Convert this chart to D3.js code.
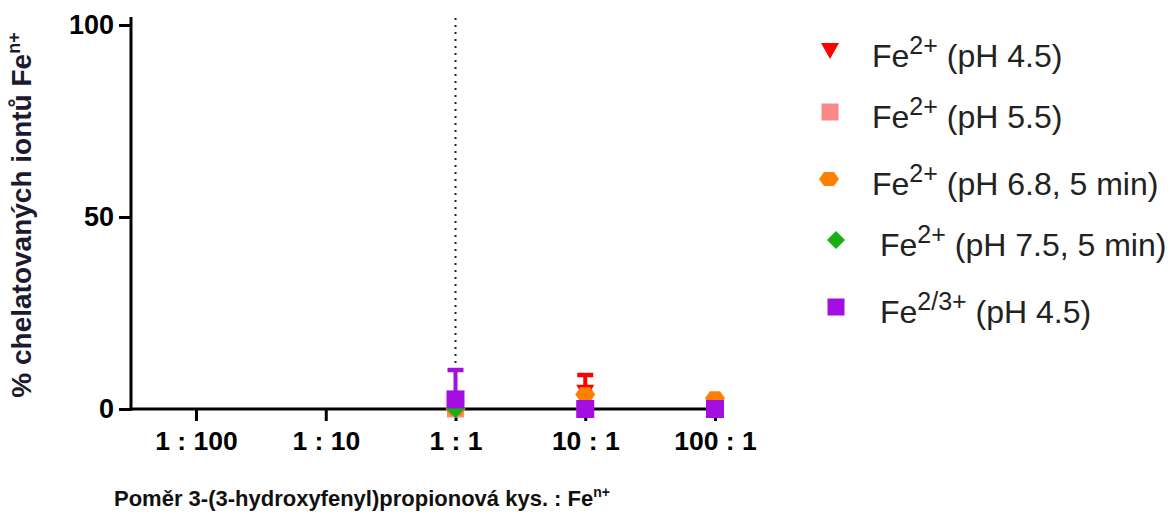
<!DOCTYPE html>
<html>
<head>
<meta charset="utf-8">
<script src="https://cdn.jsdelivr.net/npm/d3@7"></script>
<style>
  html, body { margin: 0; padding: 0; background: #fff; }
  svg { display: block; font-family: "Liberation Sans", Arial, sans-serif; }
</style>
</head>
<body>
<svg id="chart" width="1174" height="517"></svg>
<script>
// Ratio categories on the x axis
const categories = ["1 : 100", "1 : 10", "1 : 1", "10 : 1", "100 : 1"];
const yTicks = [0, 50, 100];

// Mean % of chelated ions per ratio (null = not measured)
const fe2_ph45     = [null, null, 0, 4.2, 0];
const fe2_ph55     = [null, null, 0, 0, 0];
const fe2_ph68     = [null, null, 0, 3.8, 2.8];
const fe2_ph75     = [null, null, 0, 0, 0];
const fe23_ph45    = [null, null, 2.5, 0, 0];

// Standard deviations (upper error bars)
const fe2_ph45_sd  = [null, null, 0, 4.65, 0];
const fe2_ph55_sd  = [null, null, 0, 0, 0];
const fe2_ph68_sd  = [null, null, 0, 0, 0];
const fe2_ph75_sd  = [null, null, 0, 0, 0];
const fe23_ph45_sd = [null, null, 7.65, 0, 0];

const seriesNames = [
  { sup: "2+",   rest: " (pH 4.5)" },
  { sup: "2+",   rest: " (pH 5.5)" },
  { sup: "2+",   rest: " (pH 6.8, 5 min)" },
  { sup: "2+",   rest: " (pH 7.5, 5 min)" },
  { sup: "2/3+", rest: " (pH 4.5)" }
];

const series = [
  { name: seriesNames[0], values: fe2_ph45,  sd: fe2_ph45_sd,  color: "#ff0000", shape: "triDown" },
  { name: seriesNames[1], values: fe2_ph55,  sd: fe2_ph55_sd,  color: "#f88a8a", shape: "square" },
  { name: seriesNames[2], values: fe2_ph68,  sd: fe2_ph68_sd,  color: "#ff8000", shape: "hexagon" },
  { name: seriesNames[3], values: fe2_ph75,  sd: fe2_ph75_sd,  color: "#16b016", shape: "diamond" },
  { name: seriesNames[4], values: fe23_ph45, sd: fe23_ph45_sd, color: "#a30fe0", shape: "squareBig" }
];
// draw order: pale square underneath, then the rest
const drawOrder = [1, 0, 2, 3, 4];

const svg = d3.select("#chart");

const plot = { left: 131, right: 724, top: 17, bottom: 409 };

const x = d3.scalePoint().domain(categories).range([196, 715]);
const y = d3.scaleLinear().domain([0, 100]).range([plot.bottom, 25]);

function symbolPath(shape) {
  switch (shape) {
    case "triDown": return "M-9,-8 L9,-8 L0,8 Z";
    case "square": return "M-8.5,-8.5 H8.5 V8.5 H-8.5 Z";
    case "squareBig": return "M-9,-9 H9 V9 H-9 Z";
    case "diamond": return "M0,-9 L9,0 L0,9 L-9,0 Z";
    case "hexagon": {
      const pts = d3.range(6).map(i => {
        const a = Math.PI / 3 * i;
        return [10 * Math.cos(a), 8.2 * Math.sin(a)];
      });
      return "M" + pts.map(p => p.join(",")).join("L") + "Z";
    }
  }
}

// reference line at 1 : 1
svg.append("line")
  .attr("x1", x("1 : 1")).attr("x2", x("1 : 1"))
  .attr("y1", plot.top + 1).attr("y2", plot.bottom)
  .attr("stroke", "#222").attr("stroke-width", 2)
  .attr("stroke-dasharray", "2,5");

// y axis
const yAxis = d3.axisLeft(y).tickValues(yTicks).tickSize(12).tickPadding(5);
const gy = svg.append("g").attr("transform", `translate(${plot.left},0)`).call(yAxis);
gy.select(".domain").remove();
gy.selectAll(".tick line").attr("stroke", "#000").attr("stroke-width", 3);
gy.selectAll(".tick text")
  .attr("font-size", 27).attr("font-weight", "bold").attr("fill", "#000")
  .attr("font-family", "'Liberation Sans', Arial, sans-serif");
svg.append("line")
  .attr("x1", plot.left).attr("x2", plot.left)
  .attr("y1", plot.top).attr("y2", plot.bottom + 1.5)
  .attr("stroke", "#000").attr("stroke-width", 3);

// x axis
const xAxis = d3.axisBottom(x).tickSize(12).tickPadding(10);
const gx = svg.append("g").attr("transform", `translate(0,${plot.bottom})`).call(xAxis);
gx.select(".domain").remove();
gx.selectAll(".tick line").attr("stroke", "#000").attr("stroke-width", 3);
gx.selectAll(".tick text")
  .attr("font-size", 26.5).attr("font-weight", "bold").attr("fill", "#000")
  .attr("font-family", "'Liberation Sans', Arial, sans-serif");
svg.append("line")
  .attr("x1", plot.left - 1.5).attr("x2", plot.right)
  .attr("y1", plot.bottom).attr("y2", plot.bottom)
  .attr("stroke", "#000").attr("stroke-width", 3);

// error bars and markers
const marks = svg.append("g");
drawOrder.forEach(si => {
  const s = series[si];
  const g = marks.append("g");
  categories.forEach((c, i) => {
    const v = s.values[i];
    if (v == null) return;
    const sd = s.sd[i] || 0;
    if (sd > 0) {
      g.append("line")
        .attr("x1", x(c)).attr("x2", x(c))
        .attr("y1", y(v)).attr("y2", y(v + sd))
        .attr("stroke", s.color).attr("stroke-width", 4);
      g.append("line")
        .attr("x1", x(c) - 8).attr("x2", x(c) + 8)
        .attr("y1", y(v + sd)).attr("y2", y(v + sd))
        .attr("stroke", s.color).attr("stroke-width", 4.5);
    }
    g.append("path")
      .attr("d", symbolPath(s.shape))
      .attr("transform", `translate(${x(c)},${y(v)})`)
      .attr("fill", s.color);
  });
});

// legend
const legendRows = [
  { y: 51,  mx: 830, tx: 872 },
  { y: 112, mx: 830, tx: 872 },
  { y: 179, mx: 829, tx: 872 },
  { y: 240, mx: 836, tx: 880 },
  { y: 307, mx: 836, tx: 880 }
];
const legend = svg.append("g");
series.forEach((s, i) => {
  const r = legendRows[i];
  legend.append("path")
    .attr("d", symbolPath(s.shape === "squareBig" ? "square" : s.shape))
    .attr("transform", `translate(${r.mx},${r.y})`)
    .attr("fill", s.color);
  const t = legend.append("text")
    .attr("x", r.tx).attr("y", r.y + 16)
    .attr("font-size", 32).attr("fill", "#222");
  t.append("tspan").text("Fe");
  t.append("tspan").attr("dy", -13).attr("font-size", 25).text(s.name.sup);
  t.append("tspan").attr("dy", 13).text(s.name.rest);
});

// axis titles
const xt = svg.append("text")
  .attr("x", 114).attr("y", 506)
  .attr("font-size", 22).attr("font-weight", "bold").attr("fill", "#111");
xt.append("tspan").text("Poměr 3-(3-hydroxyfenyl)propionová kys. : Fe");
xt.append("tspan").attr("dy", -9).attr("font-size", 14).text("n+");

const yt = svg.append("text")
  .attr("transform", "translate(31,215) rotate(-90)")
  .attr("text-anchor", "middle")
  .attr("font-size", 28).attr("font-weight", "bold").attr("fill", "#1c1a2e");
yt.append("tspan").text("% chelatovaných iontů Fe");
yt.append("tspan").attr("dy", -11).attr("font-size", 18).text("n+");
</script>
</body>
</html>
